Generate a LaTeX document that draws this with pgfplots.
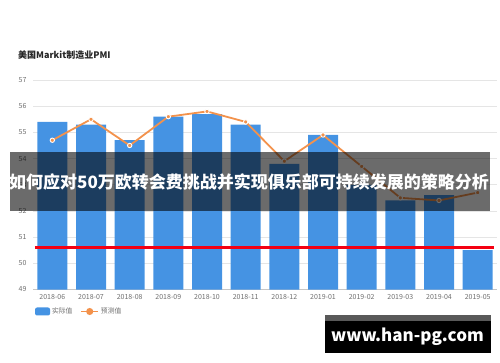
\documentclass[border=0pt]{standalone}
\usepackage{fontspec}
\setmainfont{Noto Sans CJK SC}
\usepackage{pgfplots}
\pgfplotsset{compat=1.18}
\definecolor{barblue}{HTML}{4593E3}
\definecolor{lineor}{HTML}{F3924C}
\definecolor{tickgray}{HTML}{6E6E6E}
\definecolor{redline}{HTML}{F40012}
\pgfplotstableread{
x actual forecast
0 55.4 54.7
1 55.3 55.5
2 54.7 54.5
3 55.6 55.6
4 55.7 55.8
5 55.3 55.4
6 53.8 53.9
7 54.9 54.9
8 53.0 53.7
9 52.4 52.5
10 52.6 52.4
11 50.5 52.7
}\pmidata
\begin{document}
\begin{tikzpicture}[x=1pt,y=1pt]
\useasboundingbox (0,0) rectangle (500,362);
\begin{axis}[
  at={(33pt,72.5pt)}, anchor=south west,
  scale only axis, width=464pt, height=209.5pt,
  xmin=-0.5, xmax=11.5, ymin=49, ymax=57,
  ytick={49,...,57},
  xtick={0,...,11},
  xticklabels={2018-06,2018-07,2018-08,2018-09,2018-10,2018-11,2018-12,2019-01,2019-02,2019-03,2019-04,2019-05},
  axis lines=left, axis line style={-},
  y axis line style={draw=none},
  x axis line style={draw=gray!45, line width=0.7pt},
  ymajorgrids, grid style={draw=gray!20, line width=0.7pt},
  major tick length=0pt,
  tick label style={font=\fontsize{7}{8}\selectfont, text=tickgray},
  yticklabel style={xshift=-3pt},
  xticklabel style={yshift=-1.5pt},
  /pgf/number format/assume math mode=true,
  legend style={at={(axis description cs:0.004,-0.105)}, anchor=west, draw=none, fill=none,
    font=\fontsize{6.8}{8}\selectfont, text=tickgray, inner sep=0pt,
    /tikz/every even column/.append style={column sep=6pt}},
  legend columns=2, legend cell align=left,
]
\addplot[ybar, bar width=30pt, fill=barblue, draw=none,
  legend image code/.code={\fill[barblue, rounded corners=2pt] (0pt,-4pt) rectangle (15pt,4pt);}]
  table[x=x, y=actual] {\pmidata};
\addlegendentry{实际值}
\addplot[redline, line width=3.3pt, forget plot] coordinates {(-0.45,50.6) (11.42,50.6)};
\addplot[lineor, line width=1.8pt, mark=*, mark size=2.2pt,
  mark options={fill=lineor, draw=white, line width=0.9pt},
  legend image code/.code={\draw[lineor, line width=1.5pt] (0pt,0pt)--(17pt,0pt); \fill[lineor] (8.5pt,0pt) circle (2.6pt);}]
  table[x=x, y=forecast] {\pmidata};
\addlegendentry{预测值}
\end{axis}
\node[anchor=west, font=\bfseries\fontsize{9}{10}\selectfont, text=black!85, inner sep=0pt] at (18,307) {美国Markit制造业PMI};
\fill[black, opacity=0.58] (10,151) rectangle (490,210);
\node[font=\bfseries\fontsize{17}{18}\selectfont, text=white, inner sep=0pt] at (249,180) {如何应对50万欧转会费挑战并实现俱乐部可持续发展的策略分析};
\fill[black!65] (325,41.3) rectangle (490.7,47);
\fill[black] (325,9.3) rectangle (490.7,41.3);
\node[font=\bfseries\fontsize{17}{18}\selectfont, text=white, inner sep=0pt] at (407.5,25.5) {www.han-pg.com};
\end{tikzpicture}
\end{document}
